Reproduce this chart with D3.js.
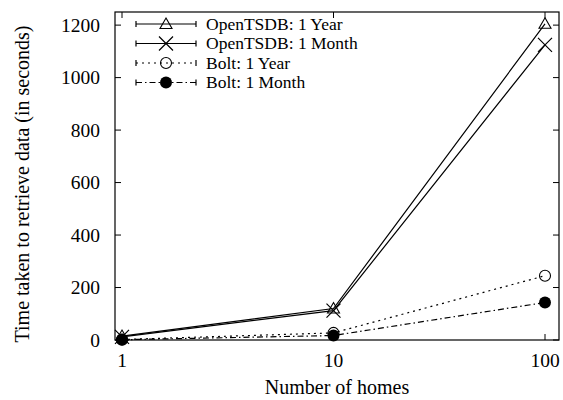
<!DOCTYPE html>
<html><head><meta charset="utf-8">
<script src="https://cdn.jsdelivr.net/npm/d3@7"></script>
<style>body{margin:0;background:#fff}svg{display:block}text{font-family:"Liberation Serif","Times New Roman",serif;fill:#000}</style>
</head><body><svg id="c" width="563" height="400"></svg>
<script>
const homes = [1, 10, 100];
const xTicks = [1, 10, 100];
const yTicks = [0, 200, 400, 600, 800, 1000, 1200];
const seriesNames = ["OpenTSDB: 1 Year", "OpenTSDB: 1 Month", "Bolt: 1 Year", "Bolt: 1 Month"];
const openTsdbYear = [15, 120, 1205];
const openTsdbMonth = [12, 112, 1125];
const boltYear = [2, 27, 245];
const boltMonth = [1, 17, 143];

const svg = d3.select("#c");
const L = 115, R = 559, T = 12, B = 340;
const x = d3.scaleLog().domain([1, 100]).range([122, 545]);
const y = d3.scaleLinear().domain([0, 1250]).range([B, T]);

const series = [
  {name: seriesNames[0], vals: openTsdbYear, dash: null, mark: "tri"},
  {name: seriesNames[1], vals: openTsdbMonth, dash: null, mark: "x"},
  {name: seriesNames[2], vals: boltYear, dash: "2,4", mark: "circ"},
  {name: seriesNames[3], vals: boltMonth, dash: "6,3,1.5,3", mark: "dot"}
];

function marker(g, type, cx, cy) {
  if (type === "tri") {
    g.append("path").attr("d", `M${cx},${cy-6}L${cx+6},${cy+4.5}L${cx-6},${cy+4.5}Z`)
      .attr("fill", "none").attr("stroke", "#000").attr("stroke-width", 1.1);
  } else if (type === "x") {
    g.append("path").attr("d", `M${cx-7},${cy-7}L${cx+7},${cy+7}M${cx-7},${cy+7}L${cx+7},${cy-7}`)
      .attr("stroke", "#000").attr("stroke-width", 1.2);
  } else if (type === "circ") {
    g.append("circle").attr("cx", cx).attr("cy", cy).attr("r", 5.5)
      .attr("fill", "none").attr("stroke", "#000").attr("stroke-width", 1.1);
  } else {
    g.append("circle").attr("cx", cx).attr("cy", cy).attr("r", 6).attr("fill", "#000");
  }
}

const ax = svg.append("g");
yTicks.forEach(v => {
  ax.append("line").attr("x1", L).attr("x2", L + 6).attr("y1", y(v)).attr("y2", y(v)).attr("stroke", "#000");
  ax.append("line").attr("x1", R).attr("x2", R - 6).attr("y1", y(v)).attr("y2", y(v)).attr("stroke", "#000");
  ax.append("text").attr("x", 100).attr("y", y(v)).attr("dy", "0.34em").attr("text-anchor", "end")
    .attr("font-size", 19.5).text(v);
});
xTicks.forEach(v => {
  ax.append("line").attr("x1", x(v)).attr("x2", x(v)).attr("y1", B).attr("y2", B - 6).attr("stroke", "#000");
  ax.append("line").attr("x1", x(v)).attr("x2", x(v)).attr("y1", T).attr("y2", T + 6).attr("stroke", "#000");
  ax.append("text").attr("x", x(v)).attr("y", 367).attr("text-anchor", "middle")
    .attr("font-size", 19.5).text(v);
});

const line = d3.line().x((d, i) => x(homes[i])).y(d => y(d));
const plot = svg.append("g");
series.forEach(s => {
  plot.append("path").attr("d", line(s.vals)).attr("fill", "none").attr("stroke", "#000")
    .attr("stroke-width", 1.2).attr("stroke-dasharray", s.dash);
});
series.forEach(s => {
  s.vals.forEach((v, i) => marker(plot, s.mark, x(homes[i]), y(v)));
});

svg.append("rect").attr("x", L).attr("y", T).attr("width", R - L).attr("height", B - T)
  .attr("fill", "none").attr("stroke", "#000").attr("stroke-width", 1.2);

const lg = svg.append("g");
const rows = [24, 43.5, 63, 82.5];
series.forEach((s, i) => {
  const yy = rows[i];
  lg.append("line").attr("x1", 136).attr("x2", 196).attr("y1", yy).attr("y2", yy)
    .attr("stroke", "#000").attr("stroke-width", 1.2).attr("stroke-dasharray", s.dash);
  [136, 196].forEach(xx => lg.append("line").attr("x1", xx).attr("x2", xx).attr("y1", yy - 3).attr("y2", yy + 3)
    .attr("stroke", "#000").attr("stroke-width", 1.2));
  marker(lg, s.mark, 166, yy);
  lg.append("text").attr("x", 206).attr("y", yy).attr("dy", "0.34em").attr("font-size", 17.5).text(s.name);
});

svg.append("text").attr("x", 337).attr("y", 394).attr("text-anchor", "middle").attr("font-size", 20)
  .text("Number of homes");
svg.append("text").attr("transform", "translate(29,184) rotate(-90)").attr("text-anchor", "middle")
  .attr("font-size", 20).text("Time taken to retrieve data (in seconds)");
</script></body></html>
